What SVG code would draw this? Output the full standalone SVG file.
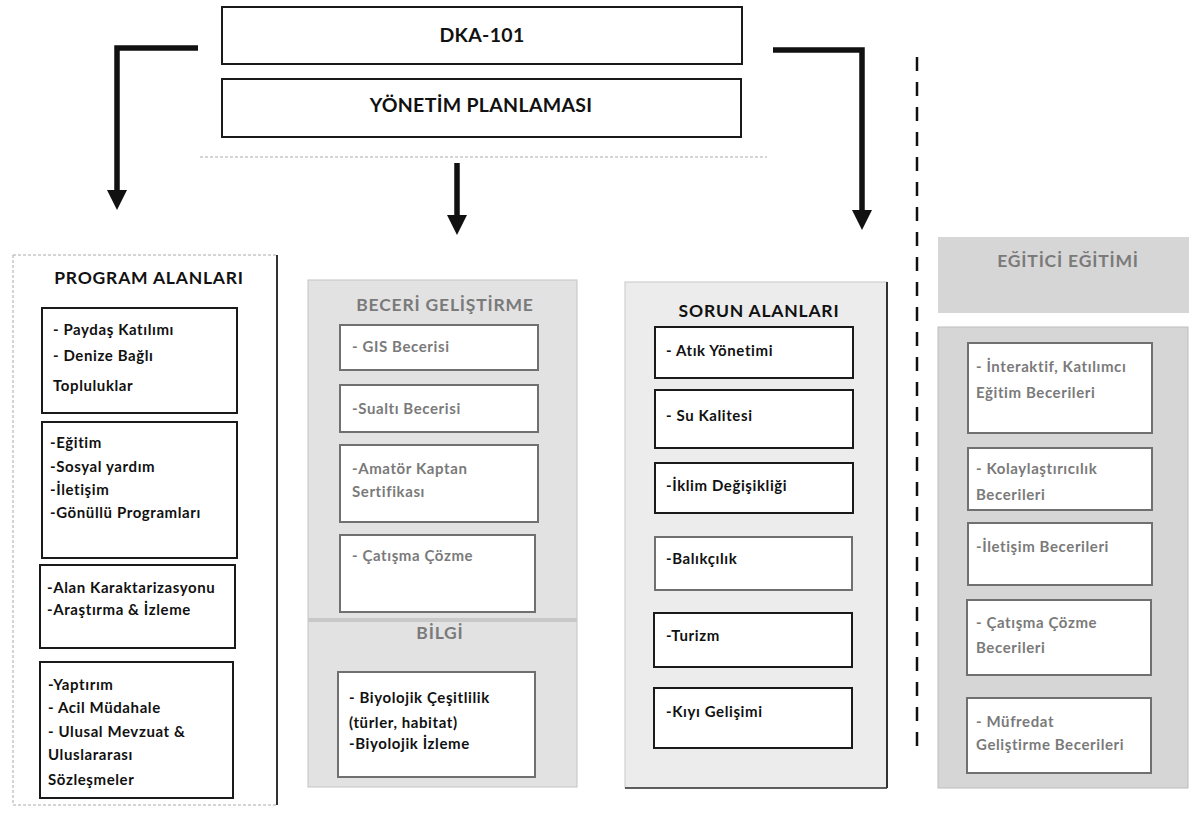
<svg xmlns="http://www.w3.org/2000/svg" width="1189" height="816" viewBox="0 0 1189 816">
<defs>
<marker id="ah" markerUnits="userSpaceOnUse" markerWidth="20" markerHeight="20" viewBox="0 0 20 20" refX="0" refY="10" orient="auto"><path d="M0,0 L20,10 L0,20 z" fill="#111"/></marker>
<style>
.t{font-family:Lato,"Liberation Sans",sans-serif;font-weight:700;font-size:15px;letter-spacing:0.6px;fill:#111}
.g{fill:#7a7a7a}
.h{font-size:17.5px;letter-spacing:0.8px;text-anchor:middle}
.big{font-size:19.5px;letter-spacing:0.3px;text-anchor:middle}
.box{fill:#fff;stroke:#1a1a1a;stroke-width:2}
.gbox{fill:#fff;stroke:#707070;stroke-width:2}
.conn{fill:none;stroke:#111;stroke-width:5.5;marker-end:url(#ah)}
</style>
</defs>
<rect width="1189" height="816" fill="#fff"/>

<g id="dka-101">
<rect class="box" x="222" y="7" width="520" height="57"/>
<text class="t big" x="482" y="42">DKA-101</text>
</g>
<g id="yonetim-planlamasi">
<rect class="box" x="222" y="79" width="519" height="58"/>
<text class="t big" x="481" y="112">YÖNETİM PLANLAMASI</text>
<line x1="200" y1="157" x2="767" y2="157" stroke="#aaa" stroke-width="1" stroke-dasharray="3 2"/>
</g>

<g id="connectors">
<path class="conn" d="M198,48 H117 V190"/>
<path class="conn" d="M457,163 V215"/>
<path class="conn" d="M773,50 H862 V210"/>
<line x1="917" y1="57" x2="917" y2="752" stroke="#111" stroke-width="2.5" stroke-dasharray="14 11"/>
</g>

<g id="program-alanlari">
<rect x="13" y="255" width="264" height="550" fill="#fff" stroke="#aaa" stroke-width="1" stroke-dasharray="3 2"/>
<line x1="277" y1="255" x2="277" y2="805" stroke="#333" stroke-width="2"/>
<text class="t h" x="149" y="284">PROGRAM ALANLARI</text>
<rect class="box" x="42" y="308" width="195" height="105"/>
<text class="t" x="53" y="335">- Paydaş Katılımı</text>
<text class="t" x="53" y="361">- Denize Bağlı</text>
<text class="t" x="53" y="391">Topluluklar</text>
<rect class="box" x="42" y="422" width="195" height="136"/>
<text class="t" x="50" y="448">-Eğitim</text>
<text class="t" x="50" y="472">-Sosyal yardım</text>
<text class="t" x="50" y="495">-İletişim</text>
<text class="t" x="50" y="518">-Gönüllü Programları</text>
<rect class="box" x="40" y="565" width="195" height="83"/>
<text class="t" x="47" y="593">-Alan Karaktarizasyonu</text>
<text class="t" x="47" y="615">-Araştırma &amp; İzleme</text>
<rect class="box" x="40" y="662" width="193" height="136"/>
<text class="t" x="48" y="690">-Yaptırım</text>
<text class="t" x="48" y="713">- Acil Müdahale</text>
<text class="t" x="48" y="737">- Ulusal Mevzuat &amp;</text>
<text class="t" x="48" y="760">Uluslararası</text>
<text class="t" x="48" y="785">Sözleşmeler</text>
</g>

<g id="beceri-gelistirme">
<rect x="308" y="280" width="269" height="507" fill="#e2e2e2" stroke="#c4c4c4" stroke-width="1"/>
<text class="t h g" x="445" y="311">BECERİ GELİŞTİRME</text>
<rect class="gbox" x="340" y="325" width="198" height="45"/>
<text class="t g" x="352" y="352">- GIS Becerisi</text>
<rect class="gbox" x="340" y="385" width="198" height="47"/>
<text class="t g" x="352" y="414">-Sualtı Becerisi</text>
<rect class="gbox" x="340" y="445" width="198" height="77"/>
<text class="t g" x="352" y="474">-Amatör Kaptan</text>
<text class="t g" x="352" y="497">Sertifikası</text>
<rect class="gbox" x="340" y="535" width="195" height="77"/>
<text class="t g" x="352" y="561">- Çatışma Çözme</text>
<line x1="308" y1="620" x2="577" y2="620" stroke="#c8c8c8" stroke-width="4"/>
</g>

<g id="bilgi">
<text class="t h g" x="440" y="639">BİLGİ</text>
<rect class="gbox" x="338" y="672" width="197" height="105"/>
<text class="t" x="349" y="703">- Biyolojik Çeşitlilik</text>
<text class="t" x="349" y="728">(türler, habitat)</text>
<text class="t" x="349" y="749">-Biyolojik İzleme</text>
</g>

<g id="sorun-alanlari">
<rect x="625" y="282" width="262" height="506" fill="#ececec" stroke="#c8c8c8" stroke-width="1"/>
<line x1="887" y1="282" x2="887" y2="788" stroke="#333" stroke-width="2"/>
<line x1="625" y1="788" x2="887" y2="788" stroke="#333" stroke-width="1.5"/>
<text class="t h" x="759" y="317">SORUN ALANLARI</text>
<rect class="box" x="655" y="327" width="198" height="51"/>
<text class="t" x="666" y="356">- Atık Yönetimi</text>
<rect class="box" x="655" y="390" width="198" height="58"/>
<text class="t" x="666" y="421">- Su Kalitesi</text>
<rect class="box" x="655" y="463" width="198" height="50"/>
<text class="t" x="666" y="491">-İklim Değişikliği</text>
<rect class="gbox" x="655" y="537" width="197" height="53"/>
<text class="t" x="666" y="564">-Balıkçılık</text>
<rect class="box" x="654" y="613" width="198" height="54"/>
<text class="t" x="666" y="641">-Turizm</text>
<rect class="box" x="654" y="688" width="198" height="60"/>
<text class="t" x="666" y="717">-Kıyı Gelişimi</text>
</g>

<g id="egitici-egitimi">
<rect x="938" y="237" width="251" height="76" fill="#d6d6d6"/>
<text class="t h g" x="1068" y="267">EĞİTİCİ EĞİTİMİ</text>
<rect x="938" y="327" width="250" height="461" fill="#d6d6d6" stroke="#bdbdbd" stroke-width="1"/>
<rect class="gbox" x="968" y="343" width="184" height="90"/>
<text class="t g" x="976" y="372">- İnteraktif, Katılımcı</text>
<text class="t g" x="976" y="398">Eğitim Becerileri</text>
<rect class="gbox" x="968" y="448" width="184" height="62"/>
<text class="t g" x="976" y="474">- Kolaylaştırıcılık</text>
<text class="t g" x="976" y="500">Becerileri</text>
<rect class="gbox" x="968" y="523" width="184" height="62"/>
<text class="t g" x="976" y="552">-İletişim Becerileri</text>
<rect class="gbox" x="967" y="600" width="184" height="75"/>
<text class="t g" x="976" y="628">- Çatışma Çözme</text>
<text class="t g" x="976" y="653">Becerileri</text>
<rect class="gbox" x="967" y="698" width="184" height="75"/>
<text class="t g" x="976" y="727">- Müfredat</text>
<text class="t g" x="976" y="750">Geliştirme Becerileri</text>
</g>
</svg>
